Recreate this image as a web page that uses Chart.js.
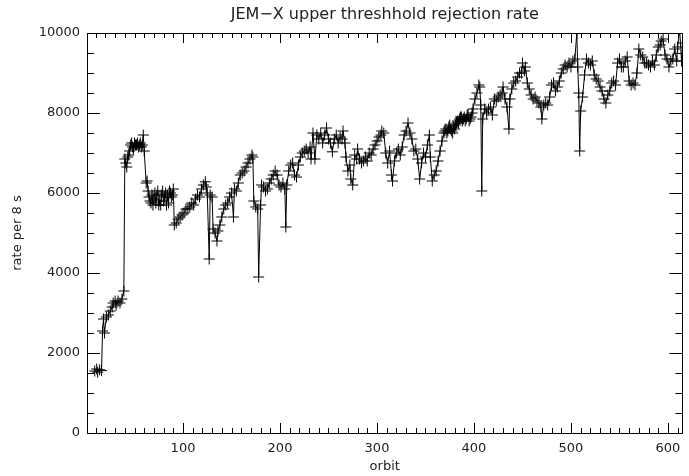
<!DOCTYPE html>
<html>
<head>
<meta charset="utf-8">
<script src="https://cdn.jsdelivr.net/npm/chart.js@4"></script>
<style>
  html, body { margin: 0; padding: 0; background: #fff; }
  #wrap { width: 689px; height: 476px; }
</style>
</head>
<body>
<div id="wrap"><canvas id="mycanvas" width="689" height="476"></canvas></div>
<script>
// values
var orbits = [9,11,12,14,16,17,18,19,21,23,25,27,28,30,31,33,35,37,39,
  40,41,42,43,44,45,46,47,48,49,50,51,52,53,54,55,56,57,58,59,60,62,63,64,65,66,67,68,69,70,71,72,73,74,75,76,77,78,79,80,81,82,83,84,85,86,87,88,89,90,
  91,93,95,97,99,101,103,105,107,109,111,113,115,117,119,121,123,124,125,127,128,130,131,133,135,136,138,140,
  142,144,146,148,150,152,153,155,157,159,161,163,165,167,169,171,172,173,175,177,178,180,181,
  183,185,187,189,191,193,195,197,199,201,203,205,206,207,209,211,213,215,217,219,221,223,225,227,229,231,232,
  234,236,238,240,242,244,246,248,250,252,254,256,258,260,262,264,265,267,268,270,272,273,275,277,279,280,
  282,284,286,288,290,292,294,296,298,300,302,304,305,307,309,311,313,315,316,318,320,322,324,326,328,330,
  332,334,336,338,340,342,344,346,348,350,352,354,355,357,359,361,363,365,367,
  369,370,371,372,373,374,375,376,377,378,379,380,381,382,383,384,385,386,387,388,389,390,391,392,393,394,395,396,397,398,399,
  401,403,405,406,407,408,409,411,413,415,417,419,421,423,425,427,429,430,
  432,434,436,437,439,441,443,445,447,449,450,452,453,455,457,459,461,463,465,467,469,470,472,474,476,478,480,
  482,484,486,488,490,492,494,496,498,500,502,504,506,507,508,509,510,512,514,516,518,520,522,524,526,528,530,
  532,534,536,538,540,542,544,546,548,550,552,554,556,558,560,562,564,566,568,570,572,574,576,578,580,582,584,
  586,588,590,592,593,595,597,599,601,603,605,607,609,610,612,614,615];
var rates = [1550,1600,1520,1580,1560,2550,2850,2500,2900,2950,3050,3150,3250,3300,3200,3300,3250,3350,3550,
  6850,6750,6650,6900,6950,7050,7200,7250,7150,7100,7250,7200,7200,7250,7150,7200,7250,7150,7200,7450,7050,6250,6300,6050,5900,5800,5750,5950,5700,5850,6000,5750,5950,6050,5700,5800,5700,5950,6050,5800,5900,6000,5700,5950,5750,6050,6000,5900,5950,6100,
  5200,5250,5350,5400,5450,5500,5600,5600,5650,5750,5700,5850,5950,5900,6100,6200,6280,6150,6000,4350,5950,5900,5100,5000,4800,5050,5200,5400,
  5600,5700,5750,5900,6000,5400,6100,6050,6250,6450,6500,6550,6650,6750,6850,6950,6900,5800,5650,5600,3900,5700,6200,
  6150,6050,6100,6250,6350,6450,6550,6450,6200,6150,6250,6100,5150,6200,6550,6700,6750,6450,6400,6700,6900,7000,7050,7100,7000,7150,6850,
  7500,6850,7450,7350,7500,7250,7450,7625,7350,7250,7030,7350,7450,7250,7400,7350,7550,7250,6900,6550,6700,6350,6200,6950,6850,7100,
  6850,6750,6800,6900,6800,7000,6950,7100,7200,7300,7400,7450,7550,7500,7000,6750,7050,6450,6300,6800,7000,7100,6950,7150,7450,7550,
  7750,7500,7350,7050,7100,6850,6350,6750,7000,6900,7200,7450,6900,6300,6450,6550,6800,7050,7300,
  7500,7550,7600,7500,7550,7650,7700,7600,7550,7500,7650,7600,7700,7750,7800,7750,7850,7900,7900,7800,7850,7900,7800,7850,7950,7950,7800,7850,7900,8000,8100,
  8350,8500,8700,8650,8200,6050,7850,8100,8000,8100,8150,7950,8350,8300,8400,8450,8500,8650,
  8350,8150,7600,8350,8600,8750,8800,8900,9000,9000,9250,9050,9150,8750,8600,8450,8350,8400,8300,8250,8150,7850,8200,8250,8200,8400,8700,
  8750,8550,8650,8800,9000,9100,9200,9150,9250,9150,9300,9350,10000,9150,8500,7050,8050,8400,8950,9350,9250,9200,9300,8950,8850,8800,8650,
  8550,8350,8250,8450,8550,8750,8800,8700,9250,9350,9150,9150,9300,9400,8800,8700,8750,8700,9000,9600,9450,9400,9250,9250,9200,9150,9300,9200,
  9450,9650,9700,9800,9850,9450,9350,9150,9300,9350,9600,9300,9650,10100,9300,9750,9600];
var xTicks = [100, 200, 300, 400, 500, 600];
var yTicks = [0, 2000, 4000, 6000, 8000, 10000];

var points = [];
for (var i in orbits) {
  points.push({x: orbits[i], y: rates[i]});
}

var FONT = 'DejaVu Sans';
var INK = '#222';

// IDL style box with inward ticks and the title over the plot area
var idlFrame = {
  id: 'idlFrame',
  afterDraw: function(chart) {
    var ctx = chart.ctx, a = chart.chartArea;
    var xs = chart.scales.x, ys = chart.scales.y;
    ctx.save();
    ctx.strokeStyle = '#000';
    ctx.lineWidth = 1;
    ctx.beginPath();
    ctx.rect(Math.round(a.left) + 0.5, Math.round(a.top) + 0.5,
             Math.round(a.right - a.left) - 1, Math.round(a.bottom - a.top));
    for (var v = 10; v <= 610; v += 10) {
      var px = Math.round(xs.getPixelForValue(v)) + 0.5;
      var len = (v % 100 === 0) ? 10 : 5;
      ctx.moveTo(px, a.bottom); ctx.lineTo(px, a.bottom - len);
      ctx.moveTo(px, a.top); ctx.lineTo(px, a.top + len);
    }
    for (var w = 0; w <= 10000; w += 500) {
      var py = Math.round(ys.getPixelForValue(w)) + 0.5;
      var l2 = (w % 2000 === 0) ? 13 : 7;
      ctx.moveTo(a.left, py); ctx.lineTo(a.left + l2, py);
      ctx.moveTo(a.right, py); ctx.lineTo(a.right - l2, py);
    }
    ctx.stroke();
    ctx.fillStyle = INK;
    ctx.font = '16px "' + FONT + '"';
    ctx.textAlign = 'center';
    ctx.textBaseline = 'middle';
    ctx.fillText('JEM\u2212X upper threshhold rejection rate', (a.left + a.right) / 2, 15);
    ctx.restore();
  }
};

var ctx = document.getElementById('mycanvas');
var chart = new Chart(ctx, {
  type: 'scatter',
  data: {
    datasets: [{
      label: 'rate',
      data: points,
      showLine: true,
      borderColor: '#000',
      borderWidth: 1,
      pointStyle: 'cross',
      pointRadius: 5.5,
      pointBorderWidth: 1,
      pointBorderColor: '#000',
      pointBackgroundColor: '#000'
    }]
  },
  options: {
    responsive: false,
    animation: false,
    events: [],
    layout: { padding: { top: 33, right: 1, left: 0, bottom: 0 } },
    plugins: {
      legend: { display: false },
      tooltip: { enabled: false }
    },
    scales: {
      x: {
        type: 'linear',
        min: 1,
        max: 615,
        afterBuildTicks: function(s) { s.ticks = xTicks.map(function(v) { return {value: v}; }); },
        afterFit: function(s) { s.height = 43; },
        grid: { display: false, drawTicks: false },
        border: { display: false },
        ticks: { padding: 8, color: INK, font: { family: FONT, size: 13 },
                 callback: function(v) { return String(v); } },
        title: { display: true, text: 'orbit', color: INK, padding: { top: 0, bottom: 2 },
                 font: { family: FONT, size: 13 } }
      },
      y: {
        min: 0,
        max: 10000,
        afterBuildTicks: function(s) { s.ticks = yTicks.map(function(v) { return {value: v}; }); },
        afterFit: function(s) { s.width = 87; },
        grid: { display: false, drawTicks: false },
        border: { display: false },
        ticks: { padding: 7, color: INK, font: { family: FONT, size: 13 },
                 callback: function(v) { return String(v); } },
        title: { display: true, text: 'rate per 8 s', color: INK, padding: { top: 10, bottom: 0 },
                 font: { family: FONT, size: 13 } }
      }
    }
  },
  plugins: [idlFrame]
});
</script>
</body>
</html>
